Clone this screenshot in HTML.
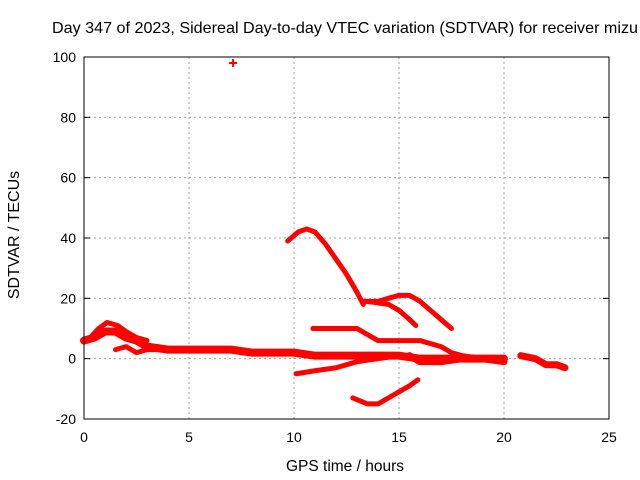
<!DOCTYPE html>
<html><head><meta charset="utf-8"><style>
body{margin:0;background:#fff}
svg{display:block;font-family:"Liberation Sans",sans-serif;font-size:14px}
</style></head><body>
<svg id="c" width="640" height="480">
<text x="52" y="33" font-size="15.8" textLength="586" lengthAdjust="spacingAndGlyphs">Day 347 of 2023, Sidereal Day-to-day VTEC variation (SDTVAR) for receiver mizu</text>
<text x="345" y="471" text-anchor="middle" font-size="15.5">GPS time / hours</text>
<text transform="translate(19,235) rotate(-90)" text-anchor="middle" font-size="16">SDTVAR / TECUs</text>
<g id="grid"></g><g id="ticks"></g><g id="marks"></g>
<rect x="84" y="57" width="525" height="362" fill="none" stroke="#000"/>
</svg>
<script>
const xTicks=[0,5,10,15,20,25];
const yTicks=[-20,0,20,40,60,80,100];
const seriesMain=[[0,6],[0.5,7],[1,9],[1.5,9],[2,7],[2.5,6],[3,4],[4,3],[5,3],[6,3],[7,3],[8,2],[9,2],[10,2],[11,1],[12,1],[13,1],[14,1],[15,1],[16,0],[17,0],[18,0],[19,0],[20,0]];
const seriesHump=[[0.3,7],[0.7,10],[1.1,12],[1.6,11],[2,9],[2.5,7],[3,6]];
const seriesLowBranch=[[1.5,3],[2,4],[2.5,2],[3,3],[4,3],[5,3]];
const seriesArc=[[9.7,39],[10.2,42],[10.6,43],[11,42],[11.5,38],[12,33],[12.5,28],[13,22],[13.3,18]];
const seriesUpper=[[13.3,19],[14,19],[14.5,20],[15,21],[15.5,21],[16,19],[16.5,16],[17,13],[17.5,10]];
const seriesUpperBranch=[[13.5,19],[14.5,18],[15,16],[15.5,13],[15.8,11]];
const seriesMid=[[10.9,10],[12,10],[13,10],[13.5,8],[14,6],[15,6],[16,6],[17,4],[17.5,2],[18,1],[19,0]];
const seriesNeg=[[10.1,-5],[11,-4],[12,-3],[13,-1],[14,0],[15,1]];
const seriesDip=[[12.8,-13],[13.5,-15],[14,-15],[14.5,-13],[15,-11],[15.5,-9],[15.9,-7]];
const seriesLate=[[15.5,1],[16,-1],[17,-1],[18,0],[19,0],[20,-1]];
const seriesEnd=[[20.8,1],[21.5,0],[22,-2],[22.5,-2],[22.9,-3]];
const outlier=[[7.1,98]];
const X=h=>84+h*21, Y=v=>419-(v+20)*362/120;
const NS="http://www.w3.org/2000/svg";
const g=document.getElementById('grid'),t=document.getElementById('ticks'),m=document.getElementById('marks');
function mk(tag,p,par){const e=document.createElementNS(NS,tag);for(const k in p)e.setAttribute(k,p[k]);par.appendChild(e);return e;}
xTicks.forEach(v=>{const x=X(v);
 if(v>0&&v<25){const l=mk('line',{x1:x,y1:57,x2:x,y2:419,stroke:'#a0a0a0','stroke-dasharray':'2,3'},g);
 
 }
 const tx=mk('text',{x:x,y:442,'text-anchor':'middle'},t);tx.textContent=v;
 
 
});
yTicks.forEach(v=>{const y=Y(v);
 if(v>-20&&v<100){const l=mk('line',{x1:84,y1:y,x2:609,y2:y,stroke:'#a0a0a0','stroke-dasharray':'2,3'},g);
 
 }
 mk('line',{x1:84,y1:y,x2:90,y2:y,stroke:'#000'},t);mk('line',{x1:603,y1:y,x2:609,y2:y,stroke:'#000'},t);
 const tx=mk('text',{x:76,y:y+5,'text-anchor':'end'},t);tx.textContent=v;
 
 
});
const all=[seriesMain,seriesHump,seriesLowBranch,seriesArc,seriesUpper,seriesUpperBranch,seriesMid,seriesNeg,seriesDip,seriesLate,seriesEnd];
all.forEach((s,i)=>{
 const p=mk('polyline',{points:s.map(d=>X(d[0])+','+Y(d[1])).join(' '),fill:'none',stroke:'#f00','stroke-width':(i===0?8:(i===9||i===10?7:5)),'stroke-linejoin':'round','stroke-linecap':'round'},m);
 
 
});
outlier.forEach(d=>{
 const p=mk('path',{d:`M${X(d[0])-4},${Y(d[1])}h8M${X(d[0])},${Y(d[1])-4}v8`,stroke:'#f00','stroke-width':2},m);
 
 
});
</script>
</body></html>
